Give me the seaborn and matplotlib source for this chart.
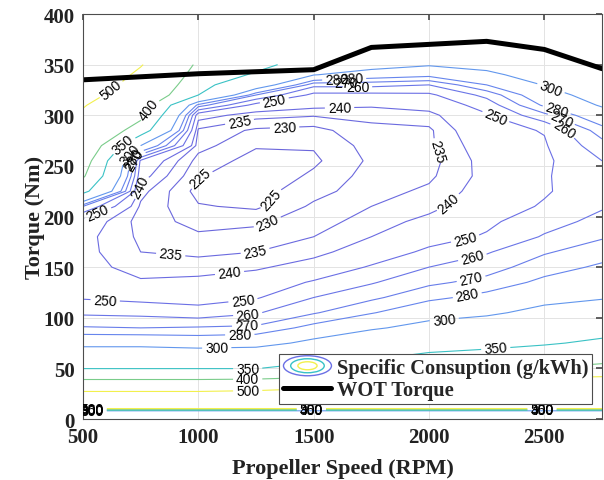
import numpy as np
import matplotlib
matplotlib.use("Agg")
import matplotlib.pyplot as plt
import seaborn as sns
from matplotlib.colors import LinearSegmentedColormap, Normalize
from matplotlib.legend_handler import HandlerBase
from matplotlib.patches import Ellipse
from matplotlib.lines import Line2D

# BSFC map (g/kWh)
speed_rpm = [500, 750, 1000, 1250, 1500, 1750, 2000, 2250, 2500, 2750]
torque_nm = [0, 8, 12, 20, 30, 40, 50, 60, 75, 90, 105, 120, 135, 150, 165,
             180, 195, 210, 225, 240, 255, 270, 285, 300, 310, 320, 330, 340, 350]
bsfc = [
    [290, 290, 290, 290, 290, 290, 290, 290, 290, 290],  # 0
    [290, 290, 290, 290, 290, 290, 290, 290, 290, 290],  # 8
    [650, 650, 650, 650, 650, 650, 650, 650, 650, 650],  # 12
    [570, 570, 570, 575, 583, 590, 602, 607, 610, 612],  # 20
    [473, 473, 473, 482, 500, 515, 542, 554, 560, 566],  # 30
    [392, 392, 392, 395, 409, 427, 467, 498, 510, 519],  # 40
    [349, 349, 349, 349, 365, 377, 389, 395, 401, 414],  # 50
    [325, 325, 322, 324, 338, 347, 361, 368, 377, 384],  # 60
    [292, 292, 289, 291, 306, 321, 332, 338, 346, 357],  # 75
    [271, 270, 271, 272, 284, 297, 308, 315, 326, 335],  # 90
    [258, 257, 254, 259, 269, 279, 291, 296, 307, 315],  # 105
    [249, 247, 246, 249, 260, 268, 277, 284, 293, 298],  # 120
    [246, 241, 242, 244, 251, 259, 268, 273, 283, 290],  # 135
    [243, 237, 237, 239, 243, 251, 260, 266, 275, 282],  # 150
    [242, 235, 234, 235, 238, 244, 252, 259, 269, 275],  # 165
    [242, 234, 231, 232, 235, 240, 246, 251, 261, 269],  # 180
    [245, 233, 228, 229, 233, 237, 242, 248, 256, 263],  # 195
    [270, 234, 225.5, 224, 231, 235, 238, 245, 251, 259],  # 210
    [363, 237, 223, 223, 228, 233, 236, 243, 249, 256],  # 225
    [406, 243, 225.5, 221, 226, 232, 234, 242, 249, 257],  # 240
    [426, 248, 228, 223, 224, 231, 233, 242.5, 248, 260],  # 255
    [447, 300, 232, 225.5, 225.5, 232, 234, 244, 249, 266],  # 270
    [468, 373, 234, 229, 228, 234, 234, 247, 250.5, 275],  # 285
    [489, 414, 243, 237, 235.5, 236, 238, 249, 267, 291],  # 300
    [505, 432, 275, 246, 242, 241, 243, 254, 282, 302],  # 310
    [529, 449, 350, 270, 247, 247, 248, 263, 291, 310],  # 320
    [552, 467, 363, 318, 263, 263, 260, 280, 301, 317],  # 330
    [576, 484, 377, 345, 301, 289, 284, 293, 315, 325],  # 340
    [600, 505, 390, 362, 330, 310, 302, 310, 330, 335],  # 350
]
bsfc_levels = [225, 230, 235, 240, 250, 260, 270, 280, 300, 350, 400, 500]

# wide open throttle curve
wot_rpm = [500, 1000, 1500, 1750, 2250, 2500, 2750]
wot_torque = [335, 341, 345, 367, 373, 365, 346]

# where MATLAB put the inline labels
label_pos = [
    (620, 326), (790, 305), (682, 268), (700, 262), (712, 258), (725, 255),
    (565, 203), (755, 229), (1136, 143), (1612, 309), (2097, 211),
    (1180, 292), (877, 156), (1245, 169), (2076, 268),
    (1374, 288), (1296, 196), (1006, 238), (1340, 213),
    (1331, 313), (595, 113), (1193, 118), (2162, 174), (2290, 299),
    (1600, 338), (1640, 334), (1665, 332), (1690, 330),
    (1214, 104), (2190, 158), (2573, 281),
    (1210, 91), (2185, 136), (2560, 290),
    (1180, 81), (2167, 121), (2545, 300),
    (1080, 68), (2067, 96), (2535, 330),
    (1214, 49), (2290, 68), (1214, 38), (1214, 28),
    (540, 10.3), (540, 9.2), (540, 8.7), (540, 8.1),
    (1490, 10.3), (1490, 9.2), (1490, 8.7),
    (2490, 10.3), (2490, 9.2), (2490, 8.7),
]

parula = LinearSegmentedColormap.from_list("parula_like", [
    (0.00, (0.42, 0.40, 0.86)),
    (0.10, (0.42, 0.44, 0.90)),
    (0.20, (0.40, 0.52, 0.93)),
    (0.30, (0.38, 0.62, 0.93)),
    (0.45, (0.22, 0.76, 0.78)),
    (0.62, (0.45, 0.80, 0.56)),
    (0.80, (0.80, 0.82, 0.35)),
    (1.00, (0.95, 0.94, 0.30)),
])

sns.set_theme(style="whitegrid")
serif = ["Liberation Serif", "DejaVu Serif"]
plt.rcParams["font.family"] = ["Liberation Sans", "DejaVu Sans"]

fig = plt.figure(figsize=(6.04, 4.81), dpi=100)
ax = fig.add_axes([0.1374, 0.1268, 0.8593, 0.842])

X, Y = np.meshgrid(speed_rpm, torque_nm)
Z = np.array(bsfc, dtype=float)
cs = ax.contour(X, Y, Z, levels=bsfc_levels, cmap=parula,
                norm=Normalize(225, 500), linewidths=0.8)
ax.clabel(cs, manual=label_pos, inline=True, inline_spacing=3,
          fontsize=10, fmt="%d", colors="black")

sns.lineplot(x=wot_rpm, y=wot_torque, color="black", linewidth=3.6, ax=ax)

ax.set_xlim(500, 2750)
ax.set_ylim(0, 400)
ax.set_xticks([500, 1000, 1500, 2000, 2500])
ax.set_yticks(range(0, 401, 50))
ax.grid(True, color="#e3e3e3", linewidth=0.7)
ax.set_facecolor("white")
for s in ax.spines.values():
    s.set_visible(True)
    s.set_color("#4d4d4d")
    s.set_linewidth(0.8)
ax.tick_params(direction="in", length=4, top=True, right=True, colors="#4d4d4d",
               labelcolor="#222222", pad=6)
for lab in ax.get_xticklabels() + ax.get_yticklabels():
    lab.set_family(serif)
    lab.set_fontweight("bold")
    lab.set_fontsize(15)

ax.set_xlabel("Propeller Speed (RPM)", family=serif, fontweight="bold",
              fontsize=16, color="#222222", labelpad=8)
ax.set_ylabel("Torque (Nm)", family=serif, fontweight="bold",
              fontsize=16, color="#222222", labelpad=-1)


class ContourIcon(HandlerBase):
    def create_artists(self, legend, orig_handle, xdescent, ydescent,
                       width, height, fontsize, trans):
        cx = width / 2 - xdescent
        cy = height / 2 - ydescent
        out = []
        for f, c in [(1.0, parula(0.1)), (0.7, parula(0.45)), (0.4, parula(1.0))]:
            out.append(Ellipse((cx, cy), width * f, height * 1.4 * f, fill=False,
                               edgecolor=c, linewidth=1.0, transform=trans))
        return out


bsfc_proxy = Line2D([], [])
wot_proxy = Line2D([], [], color="black", linewidth=3.6)
leg = ax.legend([bsfc_proxy, wot_proxy],
                ["Specific Consuption (g/kWh)", "WOT Torque"],
                handler_map={bsfc_proxy: ContourIcon()},
                loc="lower right", bbox_to_anchor=(0.981, 0.037), borderaxespad=0,
                prop={"family": serif, "weight": "bold", "size": 14.7},
                handlelength=2.35, handletextpad=0.25, borderpad=0.2,
                labelspacing=0.1, fancybox=False, framealpha=1)
leg.get_frame().set_edgecolor("#4d4d4d")
leg.get_frame().set_linewidth(0.8)
leg.set_zorder(10)

fig.savefig("out.png", dpi=100)
